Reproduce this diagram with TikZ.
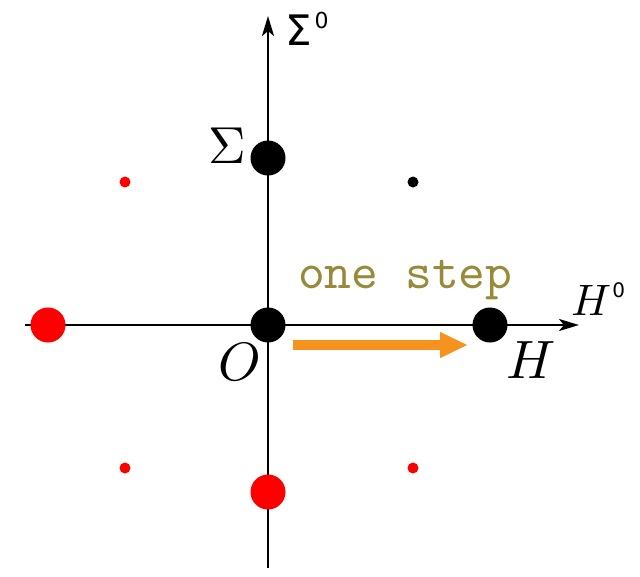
\documentclass[tikz,border=0pt]{standalone}
\usepackage{graphicx}
\usepackage{fontspec}
\newfontfamily\sansf{DejaVu Sans}
\newfontfamily\ttten[Extension=.otf]{lmmono10-regular}
\usetikzlibrary{arrows.meta}
\definecolor{olivetxt}{HTML}{978B3A}
\definecolor{orangearr}{HTML}{F7921E}
\definecolor{reddot}{HTML}{FF0000}
\tikzset{
  axis/.style={line width=2.6pt,-{Stealth[length=20pt,width=12pt,inset=5pt]}},
  bigdot/.style={circle,fill=black,minimum size=35pt,inner sep=0pt},
  bigred/.style={circle,fill=reddot,minimum size=35pt,inner sep=0pt},
  smalldot/.style={circle,fill=black,minimum size=11pt,inner sep=0pt},
  smallred/.style={circle,fill=reddot,minimum size=11pt,inner sep=0pt},
  lbl/.style={inner sep=0pt},
}
\begin{document}
\begin{tikzpicture}[x=1pt,y=-1pt]
\useasboundingbox (0,0) rectangle (640,576);
% axis endpoints
\coordinate (hl) at (25,325);
\coordinate (hr) at (579,325);
\coordinate (vb) at (268,568);
\coordinate (vt) at (268,16);
\draw[axis] (hl) -- (hr);
\draw[axis] (vb) -- (vt);
% dots
\node[bigdot] (sig) at (268,158) {};
\node[bigdot] (o) at (268,325) {};
\node[bigdot] (h) at (490,325) {};
\node[smalldot] (s1) at (413,182) {};
\node[bigred] (r1) at (48,325) {};
\node[bigred] (r2) at (268,492) {};
\node[smallred] (r3) at (125,182) {};
\node[smallred] (r4) at (125,468) {};
\node[smallred] (r5) at (413,468) {};
% labels
\node[lbl,anchor=base west] (sig0) at (285,45) {\fontsize{42}{42}\selectfont\sansf Σ\kern3pt\raisebox{17pt}{\fontsize{22}{22}\selectfont 0}};
\node[lbl,anchor=base west] (h0) at (571,315) {\scalebox{4.4}{$H$}\kern1pt\raisebox{18pt}{\sansf\fontsize{20}{20}\selectfont 0}};
\node[lbl] (siglbl) at (227,146) {\scalebox{5.2}{$\Sigma$}};
\node[lbl] (olbl) at (240,362) {\scalebox{5.4}{$O$}};
\node[lbl] (hlbl) at (531,360) {\scalebox{5.4}{$H$}};
\node[lbl,anchor=base west,text=olivetxt] (step) at (298,288) {\fontsize{51}{51}\selectfont\ttten one step};
% orange arrow
\coordinate (as) at (293,345);
\coordinate (ae) at (468,345);
\draw[orangearr,line width=10pt,-{Triangle[length=28pt,width=24pt]}] (as) -- (ae);
\end{tikzpicture}
\end{document}
